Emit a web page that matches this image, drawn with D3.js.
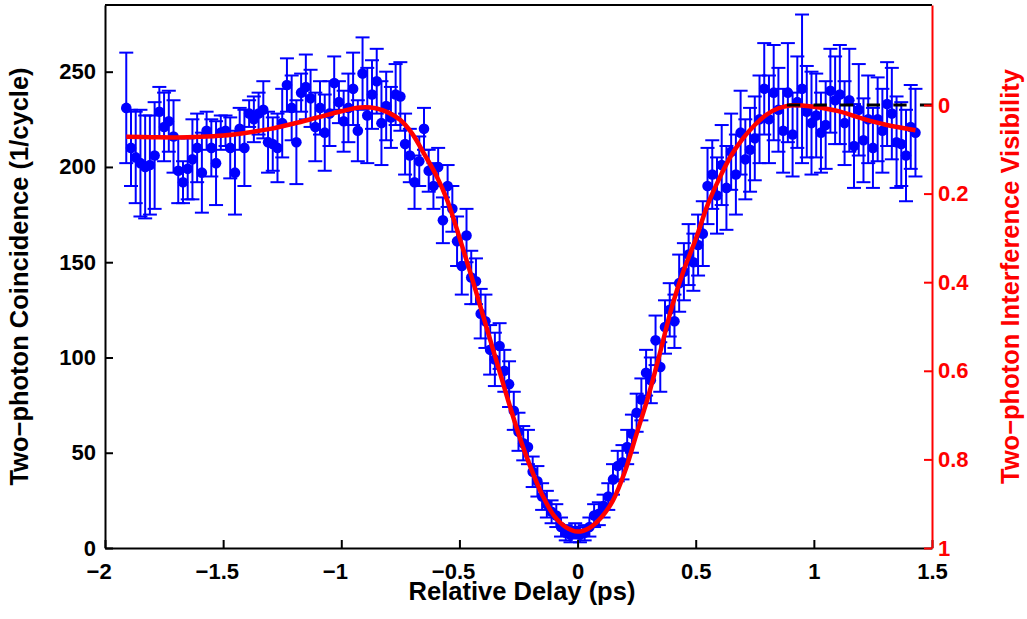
<!DOCTYPE html>
<html>
<head>
<meta charset="utf-8">
<script src="https://cdn.jsdelivr.net/npm/d3@7"></script>
<style>
  body { margin: 0; background: #fff; }
  svg { display: block; }
</style>
</head>
<body>
<div id="chart"></div>
<script>
// tick values
const xTicks = [-2, -1.5, -1, -0.5, 0, 0.5, 1, 1.5]
const countTicks = [0, 50, 100, 150, 200, 250]
const visTicks = [0, 0.2, 0.4, 0.6, 0.8, 1]

// measured coincidences: [delay (ps), counts (1/cycle), error]
const points = [
  [-1.91,231,29],[-1.89,210,20],[-1.87,205,24],[-1.85,202,28],[-1.83,200,27],[-1.81,201,26],
  [-1.79,206,28],[-1.77,229,13],[-1.75,221,18],[-1.73,224,16],[-1.71,216,19],[-1.69,198,17],
  [-1.67,192,11],[-1.65,199,16],[-1.63,204,21],[-1.61,210,18],[-1.59,197,21],[-1.57,219,10],
  [-1.55,210,15],[-1.53,202,22],[-1.51,218,9],[-1.49,219,8],[-1.47,210,16],[-1.45,197,22],
  [-1.43,220,11],[-1.41,210,20],[-1.39,228,7],[-1.37,225,12],[-1.35,228,11],[-1.33,230,15],
  [-1.31,213,16],[-1.29,212,14],[-1.27,210,18],[-1.25,223,18],[-1.23,243,14],[-1.21,231,17],
  [-1.19,213,22],[-1.17,239,10],[-1.15,242,17],[-1.13,236,15],[-1.11,221,18],[-1.09,231,14],
  [-1.07,218,20],[-1.05,228,17],[-1.03,244,14],[-1.01,234,11],[-0.99,224,16],[-0.97,231,18],
  [-0.95,241,19],[-0.93,219,16],[-0.91,249,19],[-0.89,227,25],[-0.87,238,18],[-0.85,245,17],
  [-0.83,223,22],[-0.81,232,18],[-0.79,226,16],[-0.77,238,16],[-0.75,237,18],[-0.73,212,16],
  [-0.71,206,14],[-0.69,192,14],[-0.67,203,13],[-0.65,220,11],[-0.63,198,11],[-0.61,190,12],
  [-0.59,200,10],[-0.57,172,12],[-0.55,190,11],[-0.53,178,12],[-0.51,161,13],[-0.49,148,15],
  [-0.47,164,14],[-0.45,142,14],[-0.43,140,12],[-0.41,123,13],[-0.39,119,14],[-0.37,104,13],
  [-0.35,99,14],[-0.33,106,12],[-0.31,93,11],[-0.29,86,12],[-0.27,72,10],[-0.25,61,10],
  [-0.23,55,9],[-0.21,53,9],[-0.19,40,8],[-0.17,35,8],[-0.15,27,7],[-0.13,23,7],
  [-0.11,19,6],[-0.09,17,6],[-0.07,11,5],[-0.05,8,4],[-0.03,7,4],[-0.01,9,4],
  [0.01,7,4],[0.03,8,4],[0.05,11,5],[0.07,17,6],[0.09,18,6],[0.11,22,6],
  [0.13,27,7],[0.15,36,8],[0.17,43,8],[0.19,45,9],[0.21,53,9],[0.23,60,10],
  [0.25,71,10],[0.27,78,11],[0.29,92,12],[0.31,88,12],[0.33,109,13],[0.35,95,13],
  [0.37,116,14],[0.39,125,14],[0.41,119,14],[0.43,139,15],[0.45,145,15],[0.47,154,16],
  [0.49,150,15],[0.51,159,16],[0.53,165,17],[0.55,190,20],[0.57,196,18],[0.59,185,20],
  [0.61,201,21],[0.63,189,22],[0.65,208,20],[0.67,196,21],[0.69,218,22],[0.71,204,21],
  [0.73,209,22],[0.75,215,22],[0.77,225,23],[0.79,241,24],[0.81,225,23],[0.83,239,25],
  [0.85,230,22],[0.87,219,22],[0.89,239,26],[0.91,217,22],[0.93,234,24],[0.95,241,39],
  [0.97,229,24],[0.99,223,27],[1.01,227,22],[1.03,218,21],[1.05,222,23],[1.07,240,22],
  [1.09,235,23],[1.11,238,26],[1.13,223,22],[1.15,235,27],[1.17,211,22],[1.19,230,24],
  [1.21,214,22],[1.23,225,23],[1.25,210,21],[1.27,225,22],[1.29,219,22],[1.31,233,22],
  [1.33,228,24],[1.35,213,24],[1.37,212,22],[1.39,206,24],[1.41,221,22],[1.43,218,23]
]

// fitted curve: [delay, counts]
const fitCurve = [
  [-1.91,215.8],[-1.8,215.6],[-1.7,215.5],[-1.6,215.8],[-1.5,216.5],[-1.4,218],
  [-1.3,220],[-1.2,222.8],[-1.1,226],[-1.0,229.2],[-0.92,231.2],[-0.85,230.7],
  [-0.8,228.5],[-0.75,224.6],[-0.7,217.5],[-0.65,207],[-0.6,196],[-0.55,182],
  [-0.5,163],[-0.45,143],[-0.4,122],[-0.35,101],[-0.3,80],[-0.25,60],
  [-0.2,42.7],[-0.15,28],[-0.1,17],[-0.05,11],[0,8.6],[0.05,10.5],
  [0.1,16],[0.15,25],[0.2,40],[0.25,60],[0.3,80],[0.35,103],
  [0.4,127],[0.45,146],[0.5,162],[0.55,180],[0.6,194],[0.65,206],
  [0.7,215],[0.75,222],[0.8,227.5],[0.85,230.8],[0.9,232.3],[0.95,232.3],
  [1.0,231.6],[1.1,229.4],[1.2,225.6],[1.3,222.3],[1.43,219.3]
]

// zero-visibility reference (dashed), delay range
const zeroVisRange = [0.886, 1.5]

const width = 1027
const height = 619
const margin = { top: 5, right: 95, bottom: 71, left: 105 }
const font = '"Liberation Sans", Arial, Helvetica, sans-serif'
const blue = '#0000ff'
const red = '#ff0000'

const x = d3.scaleLinear().domain([-2, 1.5]).range([margin.left, width - margin.right])
const y = d3.scaleLinear().domain([0, 285]).range([height - margin.bottom, margin.top])
const yVis = d3.scaleLinear().domain([1, -0.2257]).range([height - margin.bottom, margin.top])
const fmt = d3.format('')

const svg = d3.select('#chart')
  .append('svg')
  .attr('width', width)
  .attr('height', height)

// error bars
const bars = svg.append('g')
  .attr('stroke', blue)
  .attr('stroke-width', 2)
  .selectAll('g')
  .data(points)
  .enter()
  .append('g')

bars.append('line')
  .attr('x1', d => x(d[0])).attr('x2', d => x(d[0]))
  .attr('y1', d => y(d[1] - d[2])).attr('y2', d => y(d[1] + d[2]))
bars.append('line')
  .attr('x1', d => x(d[0]) - 7).attr('x2', d => x(d[0]) + 7)
  .attr('y1', d => y(d[1] + d[2])).attr('y2', d => y(d[1] + d[2]))
bars.append('line')
  .attr('x1', d => x(d[0]) - 7).attr('x2', d => x(d[0]) + 7)
  .attr('y1', d => y(d[1] - d[2])).attr('y2', d => y(d[1] - d[2]))

svg.append('g')
  .selectAll('circle')
  .data(points)
  .enter()
  .append('circle')
    .attr('cx', d => x(d[0]))
    .attr('cy', d => y(d[1]))
    .attr('r', 5.3)
    .attr('fill', blue)

// fit
const line = d3.line()
  .x(d => x(d[0]))
  .y(d => y(d[1]))
  .curve(d3.curveCatmullRom.alpha(0.5))

svg.append('path')
  .datum(fitCurve)
  .attr('d', line)
  .attr('fill', 'none')
  .attr('stroke', red)
  .attr('stroke-width', 4.5)

// dashed zero visibility line
svg.append('line')
  .attr('x1', x(zeroVisRange[0])).attr('x2', x(zeroVisRange[1]))
  .attr('y1', yVis(0)).attr('y2', yVis(0))
  .attr('stroke', '#000')
  .attr('stroke-width', 3)
  .attr('stroke-dasharray', '13.3,13.3')

// axes
const styleAxis = (g, color) => {
  g.attr('font-family', font).attr('font-size', 22).attr('font-weight', 'bold')
  g.select('.domain').attr('stroke', color).attr('stroke-width', 2)
  g.selectAll('.tick line').attr('stroke', color).attr('stroke-width', 2)
  g.selectAll('.tick text').attr('fill', color)
}

svg.append('line')
  .attr('x1', margin.left).attr('x2', width - margin.right)
  .attr('y1', margin.top).attr('y2', margin.top)
  .attr('stroke', '#000').attr('stroke-width', 2)

svg.append('g')
  .attr('transform', `translate(0,${height - margin.bottom})`)
  .call(d3.axisBottom(x).tickValues(xTicks).tickFormat(fmt).tickSizeInner(-8).tickSizeOuter(0).tickPadding(15))
  .call(g => styleAxis(g, '#000'))
  // negative labels are centred on their digits, minus sign hanging left
  .call(g => g.selectAll('.tick text').attr('dx', d => d < 0 ? '-0.29em' : 0))

svg.append('g')
  .attr('transform', `translate(${margin.left},0)`)
  .call(d3.axisLeft(y).tickValues(countTicks).tickFormat(fmt).tickSizeInner(-8).tickSizeOuter(0).tickPadding(9))
  .call(g => styleAxis(g, '#000'))

svg.append('g')
  .attr('transform', `translate(${width - margin.right},0)`)
  .call(d3.axisRight(yVis).tickValues(visTicks).tickFormat(fmt).tickSizeInner(-8).tickSizeOuter(0).tickPadding(6))
  .call(g => styleAxis(g, red))

// titles
const midY = (margin.top + height - margin.bottom) / 2

svg.append('text')
  .attr('x', 522).attr('y', 600)
  .attr('text-anchor', 'middle')
  .attr('font-family', font).attr('font-size', 25.5).attr('font-weight', 'bold')
  .text('Relative Delay (ps)')

svg.append('text')
  .attr('transform', `translate(28,${midY}) rotate(-90)`)
  .attr('text-anchor', 'middle')
  .attr('font-family', font).attr('font-size', 25.5).attr('font-weight', 'bold')
  .text('Two\u2212photon Coincidence (1/cycle)')

svg.append('text')
  .attr('transform', `translate(1019,${midY}) rotate(-90)`)
  .attr('text-anchor', 'middle')
  .attr('fill', red)
  .attr('font-family', font).attr('font-size', 25.5).attr('font-weight', 'bold')
  .text('Two\u2212photon Interference Visibility')
</script>
</body>
</html>
